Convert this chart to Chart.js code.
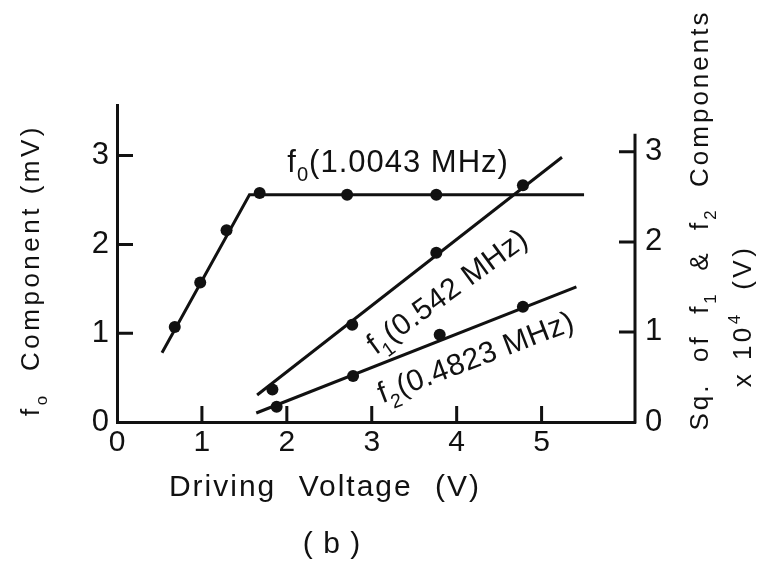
<!DOCTYPE html>
<html>
<head>
<meta charset="utf-8">
<script src="https://cdn.jsdelivr.net/npm/chart.js@4"></script>
<style>
  html, body { margin: 0; padding: 0; background: #fff; }
</style>
</head>
<body>
<canvas id="chart" width="766" height="566"></canvas>
<script>
// measured points (f0 on left axis, f1/f2 on right axis)
const F0_X = [0.68, 0.98, 1.29, 1.68, 2.71, 3.76];
const F0_Y = [1.07, 1.57, 2.16, 2.58, 2.56, 2.56];
const F1_X = [1.83, 2.77, 3.76, 4.78];
const F1_Y = [0.36, 1.08, 1.88, 2.63];
const F2_X = [1.88, 2.78, 3.80, 4.78];
const F2_Y = [0.17, 0.51, 0.97, 1.28];

// drawn fit lines
const F0_FIT_X = [0.53, 1.56, 5.50];
const F0_FIT_Y = [0.78, 2.56, 2.56];
const F1_FIT_X = [1.65, 5.24];
const F1_FIT_Y = [0.30, 2.94];
const F2_FIT_X = [1.64, 5.41];
const F2_FIT_Y = [0.10, 1.50];

const X_TICKS = [0, 1, 2, 3, 4, 5];
const LEFT_TICKS = [0, 1, 2, 3];
const RIGHT_TICKS = [0, 1, 2, 3];

const FONT = '"Liberation Sans", Arial, sans-serif';
const INK = '#111';

function pts(xs, ys) {
  return xs.map((x, i) => ({ x: x, y: ys[i] }));
}

function lineSet(xs, ys, axis) {
  return {
    data: pts(xs, ys), yAxisID: axis, showLine: true,
    borderColor: INK, borderWidth: 3, pointRadius: 0, tension: 0
  };
}

function dotSet(xs, ys, axis) {
  return {
    data: pts(xs, ys), yAxisID: axis, showLine: false,
    pointRadius: 6, backgroundColor: INK, borderColor: INK, borderWidth: 0
  };
}

// text with sub/superscripts, centred on (cx, cy), rotated by angle
function drawRich(ctx, parts, cx, cy, angle, size, spacing, wordSpacing) {
  ctx.save();
  ctx.translate(cx, cy);
  ctx.rotate(angle);
  ctx.fillStyle = INK;
  ctx.letterSpacing = spacing + 'px';
  ctx.wordSpacing = (wordSpacing || 0) + 'px';
  ctx.textAlign = 'left';
  ctx.textBaseline = 'alphabetic';
  let total = 0;
  const items = parts.map(p => {
    const s = (p.sub || p.sup) ? size * 0.65 : size;
    ctx.font = s + 'px ' + FONT;
    const w = ctx.measureText(p.t).width;
    total += w;
    return { p: p, s: s, w: w };
  });
  let x = -total / 2;
  const base = size * 0.36;
  items.forEach(it => {
    ctx.font = it.s + 'px ' + FONT;
    let dy = base;
    if (it.p.sub) dy += size * 0.3;
    if (it.p.sup) dy -= size * 0.45;
    ctx.fillText(it.p.t, x, dy);
    x += it.w;
  });
  ctx.restore();
}

const decorations = {
  id: 'decorations',
  afterDraw(chart) {
    const ctx = chart.ctx;
    const xs = chart.scales.x, yl = chart.scales.y, yr = chart.scales.y2;
    const TL = 16;

    ctx.save();
    ctx.strokeStyle = INK;
    ctx.lineWidth = 3;
    ctx.lineCap = 'butt';

    // right axis line, stops short of the top
    ctx.beginPath();
    ctx.moveTo(xs.right, yr.getPixelForValue(0) + 1.5);
    ctx.lineTo(xs.right, yr.getPixelForValue(3.2));
    ctx.stroke();

    // inward tick marks
    ctx.beginPath();
    X_TICKS.filter(v => v > 0).forEach(v => {
      const px = xs.getPixelForValue(v);
      ctx.moveTo(px, yl.bottom);
      ctx.lineTo(px, yl.bottom - TL);
    });
    LEFT_TICKS.filter(v => v > 0).forEach(v => {
      const py = yl.getPixelForValue(v);
      ctx.moveTo(xs.left, py);
      ctx.lineTo(xs.left + TL, py);
    });
    RIGHT_TICKS.filter(v => v > 0).forEach(v => {
      const py = yr.getPixelForValue(v);
      ctx.moveTo(xs.right, py);
      ctx.lineTo(xs.right - TL, py);
    });
    ctx.stroke();
    ctx.restore();

    // curve labels
    drawRich(ctx, [{ t: 'f' }, { t: '0', sub: true }, { t: '(1.0043 MHz)' }],
      xs.getPixelForValue(3.31), yl.getPixelForValue(2.94), 0, 31, 1);
    drawRich(ctx, [{ t: 'f' }, { t: '1', sub: true }, { t: '(0.542 MHz)' }],
      xs.getPixelForValue(3.88), yr.getPixelForValue(1.46), -36 * Math.PI / 180, 30, 0.5);
    drawRich(ctx, [{ t: 'f' }, { t: '2', sub: true }, { t: '(0.4823 MHz)' }],
      xs.getPixelForValue(4.22), yr.getPixelForValue(0.73), -21 * Math.PI / 180, 30, 0.5);

    // axis titles
    drawRich(ctx, [{ t: 'f' }, { t: 'o', sub: true }, { t: '  Component (mV)' }],
      30, 270, -Math.PI / 2, 26, 3.5);
    drawRich(ctx, [{ t: 'Sq.  of  f' }, { t: '1', sub: true }, { t: '  &  f' }, { t: '2', sub: true }, { t: '  Components' }],
      699, 220, -Math.PI / 2, 26, 3);
    drawRich(ctx, [{ t: 'x 10' }, { t: '4', sup: true }, { t: '  (V)' }],
      742, 316, -Math.PI / 2, 26, 3.5);
    drawRich(ctx, [{ t: 'Driving Voltage (V)' }], 325, 485, 0, 30, 2, 12);
    drawRich(ctx, [{ t: '( b )' }], 332, 542, 0, 30, 1);
  }
};

new Chart(document.getElementById('chart'), {
  type: 'scatter',
  data: {
    datasets: [
      lineSet(F0_FIT_X, F0_FIT_Y, 'y'),
      dotSet(F0_X, F0_Y, 'y'),
      lineSet(F1_FIT_X, F1_FIT_Y, 'y2'),
      dotSet(F1_X, F1_Y, 'y2'),
      lineSet(F2_FIT_X, F2_FIT_Y, 'y2'),
      dotSet(F2_X, F2_Y, 'y2')
    ]
  },
  options: {
    responsive: false,
    animation: false,
    layout: { padding: { top: 105, left: 0, right: 0, bottom: 0 } },
    plugins: { legend: { display: false }, tooltip: { enabled: false } },
    scales: {
      x: {
        type: 'linear', min: 0, max: 6.1,
        afterBuildTicks: s => { s.ticks = X_TICKS.map(v => ({ value: v })); },
        afterFit: s => { s.height = 144; },
        grid: { display: true, drawOnChartArea: false, drawTicks: false },
        border: { display: true, color: INK, width: 3 },
        ticks: { color: INK, font: { family: FONT, size: 30 }, padding: 3, autoSkip: false, maxRotation: 0 }
      },
      y: {
        type: 'linear', position: 'left', min: 0, max: 3.57,
        afterBuildTicks: s => { s.ticks = LEFT_TICKS.map(v => ({ value: v })); },
        afterFit: s => { s.width = 117; },
        grid: { display: true, drawOnChartArea: false, drawTicks: false },
        border: { display: true, color: INK, width: 3 },
        ticks: { color: INK, font: { family: FONT, size: 31 }, padding: 8 }
      },
      y2: {
        type: 'linear', position: 'right', min: 0, max: 3.52,
        afterBuildTicks: s => { s.ticks = RIGHT_TICKS.map(v => ({ value: v })); },
        afterFit: s => { s.width = 131; },
        grid: { display: true, drawOnChartArea: false, drawTicks: false },
        border: { display: false },
        ticks: { color: INK, font: { family: FONT, size: 31 }, padding: 10 }
      }
    }
  },
  plugins: [decorations]
});
</script>
</body>
</html>
